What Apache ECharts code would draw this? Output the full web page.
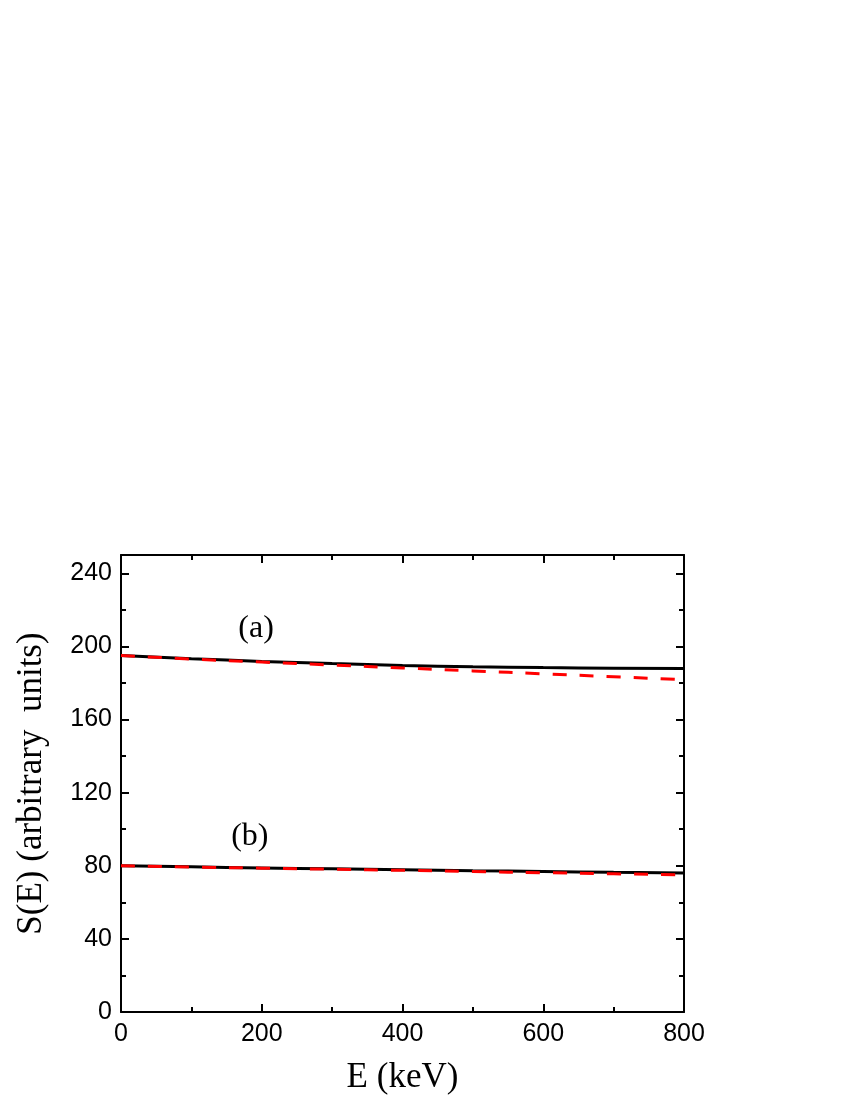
<!DOCTYPE html>
<html>
<head>
<meta charset="utf-8">
<script src="https://cdn.jsdelivr.net/npm/echarts@6/dist/echarts.min.js"></script>
<style>
  html, body { margin: 0; padding: 0; background: #fff; }
  #chart { width: 850px; height: 1100px; }
</style>
</head>
<body>
<div id="chart"></div>
<script>
  // energy grid (keV)
  var energies = [0, 100, 200, 300, 400, 500, 600, 700, 800];
  // curve (a)
  var aSolid = [195.0, 193.3, 191.8, 190.6, 189.6, 188.9, 188.4, 188.1, 187.9];
  var aDashed = [195.0, 193.1, 191.4, 189.8, 188.2, 186.6, 185.0, 183.4, 181.8];
  // curve (b)
  var bSolid = [80.0, 79.4, 78.8, 78.3, 77.8, 77.3, 76.9, 76.4, 76.0];
  var bDashed = [80.0, 79.3, 78.7, 78.1, 77.5, 76.8, 76.2, 75.6, 75.0];
  // panel labels [E, S]
  var labelA = [192, 210];
  var labelB = [183, 96];

  function pairs(ys) {
    return energies.map(function (e, i) { return [e, ys[i]]; });
  }

  var tickFont = { fontFamily: 'Liberation Sans', fontSize: 25, color: '#000' };
  var frameLine = { onZero: false, lineStyle: { color: '#000', width: 2 } };
  var majorTick = { inside: true, length: 8, lineStyle: { width: 2, color: '#000' } };
  var minorTick = { show: true, splitNumber: 2, length: 5, lineStyle: { width: 2, color: '#000' } };
  var titleFont = { fontFamily: 'Liberation Serif', fontSize: 35, color: '#000' };

  function panelMark(name, coord) {
    return {
      symbol: 'rect',
      symbolSize: 1,
      silent: true,
      itemStyle: { color: 'rgba(0,0,0,0)' },
      data: [{ coord: coord, value: name }],
      label: {
        show: true,
        position: 'inside',
        formatter: name,
        fontFamily: 'Liberation Serif',
        fontSize: 32,
        color: '#000'
      }
    };
  }

  var option = {
    backgroundColor: '#fff',
    animation: false,
    grid: { left: 121, right: 166, top: 555, bottom: 88 },
    xAxis: [{
      type: 'value',
      min: 0,
      max: 800,
      interval: 200,
      name: 'E (keV)',
      nameLocation: 'middle',
      nameGap: 48,
      nameTextStyle: titleFont,
      axisLine: frameLine,
      axisTick: majorTick,
      minorTick: minorTick,
      axisLabel: Object.assign({ margin: 10 }, tickFont),
      splitLine: { show: false }
    }, {
      type: 'value',
      position: 'top',
      min: 0,
      max: 800,
      interval: 200,
      axisLine: frameLine,
      axisTick: majorTick,
      minorTick: minorTick,
      axisLabel: { show: false },
      splitLine: { show: false }
    }],
    yAxis: [{
      type: 'value',
      min: 0,
      max: 250,
      interval: 40,
      name: 'S(E) (arbitrary  units)',
      nameLocation: 'middle',
      nameGap: 72,
      nameTextStyle: titleFont,
      axisLine: frameLine,
      axisTick: majorTick,
      minorTick: minorTick,
      axisLabel: Object.assign({ margin: 9, showMaxLabel: false }, tickFont),
      splitLine: { show: false }
    }, {
      type: 'value',
      position: 'right',
      min: 0,
      max: 250,
      interval: 40,
      axisLine: frameLine,
      axisTick: majorTick,
      minorTick: minorTick,
      axisLabel: { show: false },
      splitLine: { show: false }
    }],
    series: [{
      name: '(a) solid',
      type: 'line',
      smooth: true,
      showSymbol: false,
      data: pairs(aSolid),
      lineStyle: { color: '#000', width: 3 },
      markPoint: panelMark('(a)', labelA)
    }, {
      name: '(a) dashed',
      type: 'line',
      smooth: true,
      showSymbol: false,
      data: pairs(aDashed),
      lineStyle: { color: '#ff0000', width: 3, type: [14, 13] }
    }, {
      name: '(b) solid',
      type: 'line',
      smooth: true,
      showSymbol: false,
      data: pairs(bSolid),
      lineStyle: { color: '#000', width: 3 },
      markPoint: panelMark('(b)', labelB)
    }, {
      name: '(b) dashed',
      type: 'line',
      smooth: true,
      showSymbol: false,
      data: pairs(bDashed),
      lineStyle: { color: '#ff0000', width: 3, type: [14, 13] }
    }]
  };

  var chart = echarts.init(document.getElementById('chart'));
  chart.setOption(option);
</script>
</body>
</html>
